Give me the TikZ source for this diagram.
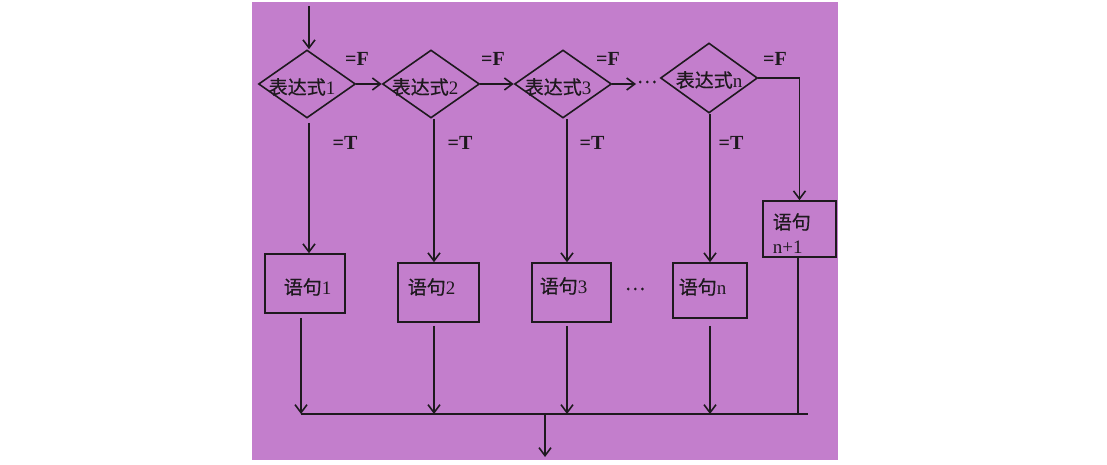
\documentclass[tikz,border=0pt]{standalone}
\usepackage{fontspec}
\setmainfont{Liberation Serif}
\newfontfamily\cjk{Noto Sans CJK SC}[FakeBold=0.6]
\usetikzlibrary{shapes.geometric,arrows.meta}
\definecolor{bgpurple}{RGB}{195,126,204}
\definecolor{ink}{RGB}{30,25,30}
\begin{document}
\begin{tikzpicture}[x=1pt,y=-1pt,
  line width=1.6pt, draw=ink,
  arr/.style={-{Straight Barb[length=8pt,width=12pt,line width=1.6pt]}},
  dia/.style={draw=ink, line width=1.6pt, diamond, inner sep=0pt, minimum width=97pt, minimum height=68pt},
  stbox/.style={draw=ink, line width=1.6pt, rectangle, inner sep=0pt},
  txt/.style={inner sep=0pt, text=ink, font=\fontsize{19}{21}\selectfont},
  cond/.style={inner sep=0pt, text=ink, font=\fontsize{20}{22}\selectfont\bfseries}
]
\fill[white] (0,0) rectangle (1107,465);
\useasboundingbox (0,0) rectangle (1107,465);
\fill[bgpurple] (252,2) rectangle (838,460);

% diamonds
\node[dia] (D1) at (307,84) {};
\node[dia] (D2) at (431,84) {};
\node[dia] (D3) at (563,84) {};
\node[dia, minimum height=70pt] (Dn) at (709,78) {};
\node[txt] (t1) at (302,87) {{\cjk 表达式}1};
\node[txt] (t2) at (425,87) {{\cjk 表达式}2};
\node[txt] (t3) at (558,87) {{\cjk 表达式}3};
\node[txt] (tn) at (709,80) {{\cjk 表达式}n};

% boxes
\node[stbox, minimum width=80pt, minimum height=59pt] (B1) at (305,283.5) {};
\node[stbox, minimum width=81pt, minimum height=59pt] (B2) at (438.5,292.5) {};
\node[stbox, minimum width=79pt, minimum height=59pt] (B3) at (571.5,292.5) {};
\node[stbox, minimum width=74pt, minimum height=55pt] (Bn) at (710,290.5) {};
\node[stbox, minimum width=73pt, minimum height=56pt] (Bn1) at (799.5,229) {};
\node[txt, anchor=west] (s1) at (283,287) {{\cjk 语句}1};
\node[txt, anchor=west] (s2) at (407,287) {{\cjk 语句}2};
\node[txt, anchor=west] (s3) at (539,286) {{\cjk 语句}3};
\node[txt, anchor=west] (sn) at (678,287) {{\cjk 语句}n};
\node[txt, anchor=west] (sn1a) at (772,222) {\cjk 语句};
\node[txt, anchor=west] (sn1b) at (772,247) {n+1};
\node[txt] (dotsA) at (647,82) {\cjk …};
\node[txt] (dotsB) at (635,289) {\cjk …};

% condition labels
\node[cond] (f1) at (357,59) {=F};
\node[cond] (f2) at (493,59) {=F};
\node[cond] (f3) at (608,59) {=F};
\node[cond] (fn) at (775,59) {=F};
\node[cond] (c1) at (345,143) {=T};
\node[cond] (c2) at (460,143) {=T};
\node[cond] (c3) at (592,143) {=T};
\node[cond] (cn) at (731,143) {=T};

% connectors
\coordinate (in) at (309,6);
\coordinate (d3e) at (636,84);
\coordinate (busL) at (301,414);
\coordinate (busR) at (808,414);
\coordinate (out) at (545,457);

\draw[arr] (in) -- (in |- D1.north);
\draw[arr] (D1.east) -- (D2.west);
\draw[arr] (D2.east) -- (D3.west);
\draw[arr] (D3.east) -- (d3e);
\draw[arr] (Dn.east) -| (Bn1.north);

\draw[arr] ([xshift=2pt,yshift=-4pt]D1.south) -- ([xshift=2pt]D1.south |- B1.north);
\draw[arr] ([xshift=3pt]D2.south) -- ([xshift=3pt]D2.south |- B2.north);
\draw[arr] ([xshift=4pt]D3.south) -- ([xshift=4pt]D3.south |- B3.north);
\draw[arr] ([xshift=1pt]Dn.south) -- ([xshift=1pt]Dn.south |- Bn.north);

\draw[arr] ([xshift=-4pt,yshift=-4pt]B1.south) -- ([xshift=-4pt]B1.south |- busL);
\draw[arr] ([xshift=-4.5pt,yshift=-3pt]B2.south) -- ([xshift=-4.5pt]B2.south |- busL);
\draw[arr] ([xshift=-4.5pt,yshift=-3pt]B3.south) -- ([xshift=-4.5pt]B3.south |- busL);
\draw[arr] ([yshift=-7pt]Bn.south) -- (Bn.south |- busL);
\draw ([xshift=-1.5pt]Bn1.south) -- ([xshift=-1.5pt]Bn1.south |- busR);
\draw (busL) -- (busR);
\draw[arr] (out |- busL) -- (out);
\end{tikzpicture}
\end{document}
